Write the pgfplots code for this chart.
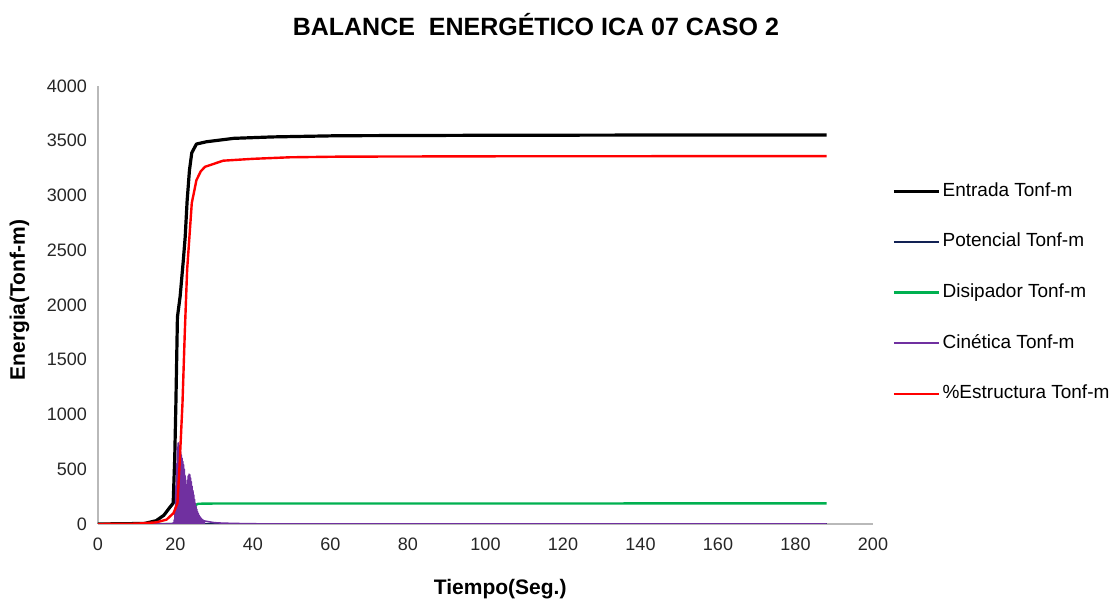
\documentclass[border=0pt]{standalone}
\usepackage{pgfplots}
\pgfplotsset{compat=1.18}
\usepackage{fontspec}
\setmainfont{Liberation Sans}

\definecolor{entrada}{RGB}{0,0,0}
\definecolor{potencial}{RGB}{18,34,84}
\definecolor{disipador}{RGB}{0,176,80}
\definecolor{cinetica}{RGB}{112,48,160}
\definecolor{estructura}{RGB}{255,0,0}

\begin{document}
\begin{tikzpicture}
\path[use as bounding box] (-49pt,-38pt) rectangle (509pt,262pt);
\begin{axis}[
    scale only axis,
    width=387.5pt, height=219pt,
    anchor=south west, at={(0pt,0pt)},
    xmin=0, xmax=200,
    ymin=0, ymax=4000,
    xtick={0,20,...,200},
    ytick={0,500,...,4000},
    axis x line=bottom, axis y line=left,
    axis line style={draw=gray!55, line width=0.7pt, -},
    major tick length=0pt,
    /pgf/number format/assume math mode=true,
    /pgf/number format/1000 sep={},
    tick label style={font=\fontsize{9}{10}\selectfont, text=black!85},
    yticklabel style={xshift=-2pt},
    xticklabel style={yshift=-3.5pt},
    title={BALANCE \ ENERGÉTICO ICA 07 CASO 2},
    title style={font=\bfseries\fontsize{12.5}{14}\selectfont, at={(0.565,1.089)}, anchor=base},
    xlabel={Tiempo(Seg.)},
    xlabel style={font=\bfseries\fontsize{10.5}{12}\selectfont, at={(0.519,-0.162)}, anchor=base},
    ylabel={Energia(Tonf-m)},
    ylabel style={font=\bfseries\fontsize{10.5}{12}\selectfont, at={(-0.0942,0.511)}, anchor=base},
    legend style={draw=none, fill=none, inner sep=0pt, at={(1.0245,0.781)}, anchor=north west,
        font=\fontsize{9.5}{11}\selectfont, row sep=16.3pt, column sep=1pt,
        nodes={inner sep=0pt, text height=7pt, text depth=2pt}},
    legend cell align=left,
    legend image code/.code={\draw[#1] (0pt,0pt) -- (22.5pt,0pt);},
    line join=round,
]

% Entrada
\addplot[color=entrada, line width=1.6pt] coordinates {
(0,0)(12,5)(15,30)(17,80)(18.5,150)(19.4,190)(19.8,600)(20.1,1100)(20.5,1890)
(21.2,2080)(22,2400)(22.5,2620)(23,2950)(23.6,3230)(24.2,3390)(25.4,3470)
(28,3491)(35,3522)(45,3535)(62,3546)(100,3550)(140,3552)(188,3552)
};
\addlegendentry{Entrada Tonf-m}

% Potencial
\addplot[color=potencial, line width=1pt] coordinates {
(0,0)(50,0)(100,0)(150,0)(188,0)
};
\addlegendentry{Potencial Tonf-m}

% Disipador
\addplot[color=disipador, line width=1.2pt] coordinates {
(0,0)(20,0)(22,5)(22.8,30)(23.5,90)(24.3,140)(25,170)(25.9,185)(30,187)(188,188)
};
\addlegendentry{Disipador Tonf-m}

% Cinetica
\addplot[color=cinetica, line width=0.8pt] coordinates {
(0,0)(15,0)(19,3)
(19.5,10)(19.6,0)(19.7,40)(19.8,0)(19.9,150)(20.0,0)(20.1,350)(20.2,0)
(20.3,550)(20.4,0)(20.5,700)(20.6,0)(20.7,740)(20.8,0)(20.9,720)(21.0,0)
(21.1,690)(21.2,0)(21.3,660)(21.4,0)(21.5,630)(21.6,0)(21.7,600)(21.8,0)
(21.9,570)(22.0,0)(22.1,540)(22.2,0)(22.3,500)(22.4,0)(22.5,440)(22.6,0)
(22.7,360)(22.8,0)(22.9,300)(23.0,0)(23.1,400)(23.2,0)(23.3,440)(23.4,0)
(23.5,455)(23.6,0)(23.7,450)(23.8,0)(23.9,420)(24.0,0)(24.1,385)(24.2,0)
(24.3,345)(24.4,0)(24.5,305)(24.6,0)(24.7,265)(24.8,0)(24.9,225)(25.0,0)
(25.1,190)(25.2,0)(25.3,160)(25.4,0)(25.5,135)(25.6,0)(25.7,112)(25.8,0)
(25.9,95)(26.0,0)(26.1,80)(26.2,0)(26.3,68)(26.4,0)(26.5,58)(26.6,0)
(26.7,48)(26.8,0)(26.9,42)(27.0,0)(27.1,36)(27.2,0)(27.3,32)(27.4,0)(27.5,28)
(28,24)(29,18)(30,12)(32,8)(35,5)(40,2)(50,0)(188,0)
};
\addlegendentry{Cinética Tonf-m}

% Estructura
\addplot[color=estructura, line width=1.2pt] coordinates {
(0,0)(10,3)(15,15)(17.7,40)(19.5,100)(20.5,190)(21,500)(21.8,1100)(22.4,1750)
(23,2320)(24.2,2930)(25.4,3140)(26.5,3220)(27.6,3262)(32.3,3318)(40,3335)
(49.5,3349)(62.5,3355)(100,3358)(188,3360)
};
\addlegendentry{\%Estructura Tonf-m}

\end{axis}
\end{tikzpicture}
\end{document}
